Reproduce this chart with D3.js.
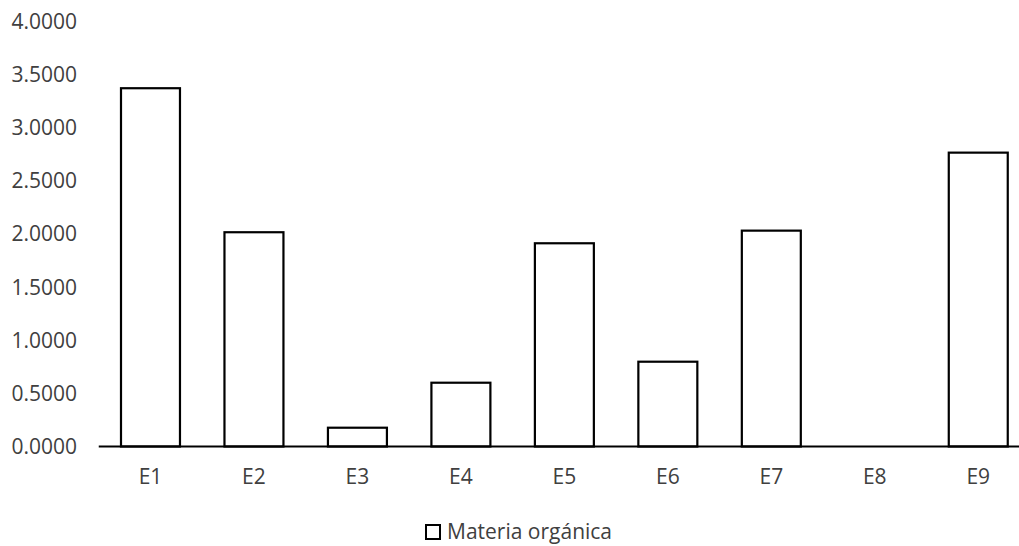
<!DOCTYPE html>
<html>
<head>
<meta charset="utf-8">
<script src="https://cdn.jsdelivr.net/npm/d3@7"></script>
<style>
  html, body { margin: 0; padding: 0; background: #fff; }
  svg text { font-family: "Open Sans", Carlito, Calibri, sans-serif; fill: #404040; }
</style>
</head>
<body>
<svg id="chart" width="1019" height="546"></svg>
<script>
// Organic matter per sampling station
const categories = ["E1", "E2", "E3", "E4", "E5", "E6", "E7", "E8", "E9"];
const organicMatter = [3.376, 2.019, 0.177, 0.601, 1.915, 0.799, 2.034, 0, 2.769];
const yTicks = [0, 0.5, 1, 1.5, 2, 2.5, 3, 3.5, 4];
const seriesName = "Materia orgánica";

const fontStack = "'Open Sans', Carlito, Calibri, sans-serif";
const fontSize = 21;

const svg = d3.select("#chart");
const plotLeft = 98.75, plotRight = 1030, plotTop = 22, plotBottom = 446.5;

const x = d3.scaleBand().domain(categories).range([plotLeft, plotRight]).paddingInner(0.43).paddingOuter(0.215);
const y = d3.scaleLinear().domain([0, 4]).range([plotBottom, plotTop]);

// Y-axis labels (no axis line, no gridlines)
const yAxis = d3.axisLeft(y).tickValues(yTicks).tickFormat(d3.format(".4f")).tickSize(0).tickPadding(0);
svg.append("g").attr("transform", "translate(77,0)").call(yAxis)
  .call(g => g.select(".domain").remove())
  .call(g => g.selectAll("text").attr("font-size", fontSize).attr("fill", "#404040")
    .style("font-family", fontStack));

// Bars
svg.append("g").selectAll("rect").data(organicMatter).join("rect")
  .attr("x", (d, i) => x(categories[i]))
  .attr("y", d => y(d))
  .attr("width", x.bandwidth())
  .attr("height", d => y(0) - y(d))
  .attr("fill", "#fff")
  .attr("stroke", "#000")
  .attr("stroke-width", 2.2);

// X axis baseline and category labels
const xAxis = d3.axisBottom(x).tickSize(0).tickPadding(30);
svg.append("g").attr("transform", `translate(0,${plotBottom})`).call(xAxis)
  .call(g => g.select(".domain").attr("stroke", "#000").attr("stroke-width", 2.2)
    .attr("d", `M${plotLeft},0H${plotRight}`))
  .call(g => g.selectAll("text").attr("font-size", fontSize).attr("fill", "#404040")
    .style("font-family", fontStack).attr("dy", "0.35em"));

// Legend
const legend = svg.append("g").attr("transform", "translate(425,532)");
legend.append("rect").attr("x", 1).attr("y", -7).attr("width", 14).attr("height", 14)
  .attr("fill", "#fff").attr("stroke", "#000").attr("stroke-width", 2);
legend.append("text").attr("x", 22).attr("y", 0).attr("dy", "0.35em")
  .attr("font-size", fontSize).style("font-family", fontStack).text(seriesName);
</script>
</body>
</html>
